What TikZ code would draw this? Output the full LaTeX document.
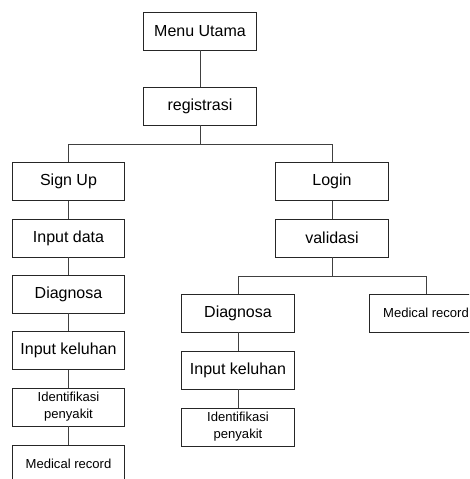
\documentclass[tikz,border=0pt]{standalone}
\usepackage{fontspec}
\setmainfont{Liberation Sans}

\begin{document}
\begin{tikzpicture}[x=0.75pt,y=-0.75pt,
  b/.style={draw=black!85,line width=0.6pt,fill=white,minimum width=84.4pt,minimum height=28.5pt,inner sep=0pt,align=center,font=\fontsize{12}{14}\selectfont},
  sm/.style={b,font=\fontsize{9.8}{12.6}\selectfont},
  e/.style={draw=black!75,line width=0.6pt}]
  \useasboundingbox (0,0) rectangle (469,479);
  \clip (0,0) rectangle (469,479);
  % the two bus lines
  \coordinate (bus1) at (200,144);
  \coordinate (bus2) at (332,276);
  % top
  \node[b]  (menu)   at (200,31)    {Menu Utama};
  \node[b]  (reg)    at (200,106)   {registrasi};
  % left branch: sign up
  \node[b]  (signup) at (68.5,181.5) {Sign Up};
  \node[b]  (inp)    at (68.5,238)   {Input data};
  \node[b]  (diagA)  at (68.5,294)   {Diagnosa};
  \node[b]  (kelA)   at (68.5,350.5) {Input keluhan};
  \node[sm] (idA)    at (68.5,407)   {Identifikasi\\penyakit};
  \node[sm] (medA)   at (68.5,464)   {Medical record};
  % right branch: login
  \node[b]  (login)  at (332,181.5) {Login};
  \node[b]  (valid)  at (332,238)   {validasi};
  \node[b]  (diagB)  at (238,313)   {Diagnosa};
  \node[b]  (kelB)   at (238,370)   {Input keluhan};
  \node[sm] (idB)    at (238,427)   {Identifikasi\\penyakit};
  \node[sm] (medB)   at (426,313)   {Medical record};
  % connectors
  \foreach \p/\q in {menu/reg,signup/inp,inp/diagA,diagA/kelA,kelA/idA,idA/medA,
                     login/valid,diagB/kelB,kelB/idB}
    \draw[e] (\p) -- (\q);
  \draw[e] (reg) -- (bus1);
  \draw[e] (signup) -- (signup |- bus1) -- (login |- bus1) -- (login);
  \draw[e] (valid) -- (bus2);
  \draw[e] (diagB) -- (diagB |- bus2) -- (medB |- bus2) -- (medB);
\end{tikzpicture}
\end{document}
